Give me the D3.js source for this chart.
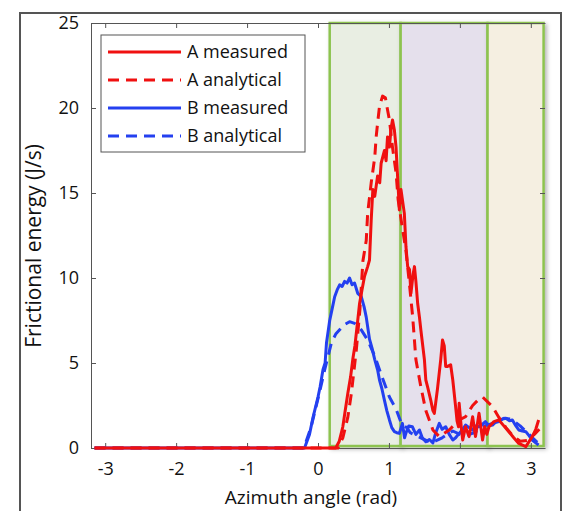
<!DOCTYPE html>
<html>
<head>
<meta charset="utf-8">
<script src="https://cdn.jsdelivr.net/npm/d3@7"></script>
<style>
  body { margin: 0; background: #fff; }
  svg { display: block; font-family: "Open Sans", "Noto Sans", sans-serif; }
</style>
</head>
<body>
<svg id="chart" width="565" height="511"></svg>
<script>
// data: [azimuth (rad), frictional energy (J/s)]
const aMeasured = [[-3.15,0],[0.25,0],[0.3,0.4],[0.35,1.25],[0.38,2.1],[0.42,3.2],[0.46,4.2],[0.49,5.2],[0.52,6.0],[0.54,6.75],[0.56,7.5],[0.586,8.5],[0.62,9.3],[0.656,10.1],[0.70,10.67],[0.726,11.06],[0.75,13.4],[0.773,15.2],[0.80,14.8],[0.84,16.0],[0.87,15.6],[0.89,16.75],[0.937,17.5],[0.96,16.9],[0.98,18.3],[1.007,17.7],[1.03,18.8],[1.05,19.3],[1.077,18.7],[1.10,17.7],[1.124,15.8],[1.147,14.0],[1.17,15.2],[1.217,13.8],[1.24,11.84],[1.264,10.67],[1.29,10.5],[1.31,9.1],[1.34,10.2],[1.36,10.67],[1.38,9.8],[1.405,8.5],[1.43,7.7],[1.45,6.94],[1.50,5.2],[1.52,4.0],[1.545,3.6],[1.59,2.8],[1.62,2.2],[1.64,2.04],[1.685,3.5],[1.73,5.2],[1.755,6.35],[1.78,6.0],[1.80,4.8],[1.826,4.8],[1.87,4.9],[1.90,4.0],[1.94,2.43],[1.96,1.6],[1.98,1.25],[1.99,2.63],[2.02,1.2],[2.04,0.47],[2.08,1.25],[2.13,0.67],[2.18,1.84],[2.22,0.67],[2.27,2.04],[2.32,0.47],[2.35,1.25],[2.38,0.8],[2.41,1.25],[2.48,1.55],[2.55,1.65],[2.62,1.3],[2.69,0.96],[2.76,0.6],[2.83,0.27],[2.93,0.08],[3.02,0.67],[3.07,1.1],[3.11,1.65]];

const aAnalytical = [[-3.15,0],[0.28,0],[0.35,0.6],[0.42,1.8],[0.47,3.2],[0.54,5.76],[0.59,8.1],[0.633,11.0],[0.68,12.2],[0.70,13.8],[0.75,15.6],[0.80,17.1],[0.82,18.3],[0.84,19.1],[0.867,20.1],[0.91,20.7],[0.95,20.6],[0.98,19.9],[1.007,19.3],[1.05,17.7],[1.10,16.2],[1.13,14.6],[1.18,13.2],[1.24,11.6],[1.29,9.6],[1.335,7.7],[1.38,5.2],[1.45,3.6],[1.52,2.2],[1.62,1.06],[1.71,0.67],[1.85,1.06],[1.99,1.65],[2.08,1.84],[2.18,2.5],[2.25,2.8],[2.32,3.0],[2.46,2.43],[2.55,1.8],[2.65,1.2],[2.75,0.7],[2.85,0.4],[2.95,0.45],[3.05,0.8],[3.12,1.1]];

const bMeasured = [[-3.15,0],[-0.19,0],[-0.12,0.8],[-0.07,1.8],[0.0,3.0],[0.03,3.6],[0.07,4.6],[0.10,5.0],[0.12,6.2],[0.165,7.5],[0.2,8.2],[0.235,8.9],[0.27,9.3],[0.305,9.6],[0.34,9.5],[0.375,9.8],[0.41,9.7],[0.445,10.0],[0.48,9.6],[0.516,9.7],[0.56,9.1],[0.61,8.9],[0.65,8.3],[0.68,7.7],[0.726,6.4],[0.76,5.9],[0.8,5.2],[0.84,4.6],[0.867,4.0],[0.9,3.5],[0.937,2.8],[0.97,2.2],[1.007,1.65],[1.04,1.2],[1.077,0.96],[1.11,0.9],[1.147,0.86],[1.19,1.45],[1.22,0.6],[1.24,0.88],[1.28,1.3],[1.33,1.25],[1.38,0.8],[1.43,1.06],[1.47,0.6],[1.52,0.37],[1.57,0.5],[1.62,0.3],[1.66,0.9],[1.71,1.45],[1.75,1.1],[1.80,1.25],[1.85,0.8],[1.90,0.47],[1.94,0.6],[1.99,0.86],[2.04,1.1],[2.08,1.35],[2.13,1.2],[2.18,1.06],[2.22,1.3],[2.27,1.25],[2.32,1.4],[2.36,1.55],[2.41,1.3],[2.46,1.35],[2.50,1.5],[2.55,1.55],[2.60,1.7],[2.65,1.75],[2.70,1.6],[2.74,1.65],[2.79,1.3],[2.83,1.06],[2.88,1.0],[2.93,0.96],[2.98,0.7],[3.02,0.47],[3.07,0.3],[3.11,0.18]];

const bAnalytical = [[-3.15,0],[-0.2,0],[-0.1,1.2],[0,2.9],[0.1,4.7],[0.19,6.2],[0.25,6.7],[0.305,6.95],[0.37,7.25],[0.445,7.43],[0.516,7.33],[0.56,7.15],[0.61,6.95],[0.70,6.35],[0.80,5.4],[0.91,4.1],[1.007,3.0],[1.10,2.3],[1.18,1.4],[1.25,1.2],[1.3,0.9],[1.45,0.6],[1.6,0.3],[1.75,0.6],[1.9,1.0],[2.05,0.7],[2.2,0.9],[2.35,1.3],[2.5,1.5],[2.62,1.75],[2.72,1.7],[2.85,1.3],[2.95,0.9],[3.05,0.5],[3.12,0.2]];

const regionEdges = [0.165, 1.165, 2.39, 3.18];
const regionFills = ["#e9eee3", "#e5e0ec", "#f5efe1"];

const xTicks = [-3, -2, -1, 0, 1, 2, 3];
const yTicks = [0, 5, 10, 15, 20, 25];

const series = [
  { name: "A measured",   data: aMeasured,   color: "#f01010", dash: null },
  { name: "A analytical", data: aAnalytical, color: "#f01010", dash: "11,7" },
  { name: "B measured",   data: bMeasured,   color: "#2440f0", dash: null },
  { name: "B analytical", data: bAnalytical, color: "#2440f0", dash: "11,7" }
];

const margin = { top: 23, right: 20, bottom: 63, left: 91 },
      width = 565 - margin.left - margin.right,
      height = 511 - margin.top - margin.bottom;

const svg = d3.select("#chart");

// outer frame
svg.append("rect")
  .attr("x", 20).attr("y", 13)
  .attr("width", 541).attr("height", 600)
  .attr("fill", "none").attr("stroke", "#555").attr("stroke-width", 2);

const defs = svg.append("defs");
const shadow = defs.append("filter").attr("id", "shadow")
  .attr("x", "-10%").attr("y", "-10%").attr("width", "130%").attr("height", "130%");
shadow.append("feDropShadow")
  .attr("dx", 2).attr("dy", 2).attr("stdDeviation", 2)
  .attr("flood-color", "#000").attr("flood-opacity", 0.3);

const g = svg.append("g").attr("transform", `translate(${margin.left},${margin.top})`);

const x = d3.scaleLinear().domain([-3.2, 3.2]).range([0, width]);
const y = d3.scaleLinear().domain([0, 25]).range([height, 0]);

// shaded regions
const regions = d3.range(regionFills.length).map(i => ({ x0: regionEdges[i], x1: regionEdges[i + 1], fill: regionFills[i] }));
g.append("g").selectAll("rect")
  .data(regions)
  .join("rect")
  .attr("x", d => x(d.x0))
  .attr("y", y(25))
  .attr("width", d => x(d.x1) - x(d.x0))
  .attr("height", y(0) - y(25) - 2)
  .attr("fill", d => d.fill)
  .attr("stroke", "#8dc350")
  .attr("stroke-width", 2.5)
  .attr("filter", "url(#shadow)");

// axes
const axisColor = "#555";
const fontSize = "18px";

const xAxis = g.append("g").attr("transform", `translate(0,${height})`)
  .call(d3.axisBottom(x).tickValues(xTicks).tickSizeInner(-5).tickSizeOuter(0).tickPadding(14)
    .tickFormat(d => String(d)));
const xTop = g.append("g")
  .call(d3.axisTop(x).tickValues(xTicks).tickSizeInner(-5).tickSizeOuter(0).tickFormat(""));
const yAxis = g.append("g")
  .call(d3.axisLeft(y).tickValues(yTicks).tickSizeInner(-5).tickSizeOuter(0).tickPadding(12));
const yRight = g.append("g").attr("transform", `translate(${width},0)`)
  .call(d3.axisRight(y).tickValues(yTicks).tickSizeInner(-5).tickSizeOuter(0).tickFormat(""));

[xAxis, xTop, yAxis, yRight].forEach(a => {
  a.select(".domain").attr("stroke", axisColor);
  a.selectAll(".tick line").attr("stroke", axisColor);
  a.selectAll(".tick text").attr("fill", "#111").style("font-size", fontSize)
    .style("font-family", '"Open Sans", sans-serif');
});
yRight.select(".domain").remove();

// curves
const line = d3.line().x(d => x(d[0])).y(d => y(d[1]));
g.append("g").selectAll("path")
  .data(series.slice().reverse())
  .join("path")
  .attr("d", d => line(d.data))
  .attr("fill", "none")
  .attr("stroke", d => d.color)
  .attr("stroke-width", 3)
  .attr("stroke-linejoin", "round")
  .attr("stroke-dasharray", d => d.dash);

// axis titles
svg.append("text")
  .attr("x", 311).attr("y", 504)
  .attr("text-anchor", "middle")
  .style("font-size", "19px").attr("fill", "#111")
  .text("Azimuth angle (rad)");

svg.append("text")
  .attr("transform", "translate(41,246) rotate(-90)")
  .attr("text-anchor", "middle")
  .style("font-size", "21px").attr("fill", "#111")
  .text("Frictional energy (J/s)");

// legend
const legend = svg.append("g").attr("transform", "translate(101,35)");
legend.append("rect")
  .attr("width", 204).attr("height", 117)
  .attr("fill", "#fff").attr("stroke", "#555").attr("stroke-width", 1);
const items = legend.selectAll("g.item")
  .data(series)
  .join("g").attr("class", "item")
  .attr("transform", (d, i) => `translate(0,${17 + i * 28})`);
items.append("line")
  .attr("x1", 7).attr("x2", 80)
  .attr("stroke", d => d.color).attr("stroke-width", 3)
  .attr("stroke-dasharray", d => d.dash);
items.append("text")
  .attr("x", 86).attr("dy", "0.35em")
  .style("font-size", "18px").attr("fill", "#111")
  .text(d => d.name);
</script>
</body>
</html>
